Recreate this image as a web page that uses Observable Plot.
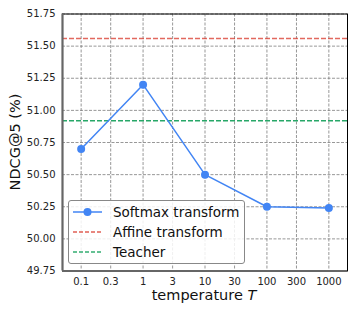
<!DOCTYPE html>
<html>
<head>
<meta charset="utf-8">
<script src="https://cdn.jsdelivr.net/npm/d3@7"></script>
<script src="https://cdn.jsdelivr.net/npm/@observablehq/plot@0.6"></script>
<style>
  html, body { margin: 0; padding: 0; background: #fff; }
  #wrap { position: relative; width: 357px; height: 313px; font-family: "DejaVu Sans", sans-serif; }
  #wrap > svg { position: absolute; left: 0; top: 0; }
  .lbl { position: absolute; color: #111; white-space: nowrap; }
  #legend { position: absolute; left: 68px; top: 200px; width: 177px; height: 64px; box-sizing: border-box;
            border: 1px solid #888; border-radius: 3px; background: rgba(255,255,255,0.85); }
  .row { position: absolute; left: 0; height: 20px; display: flex; align-items: center; font-size: 13.5px; color: #111; white-space: nowrap; }
  #wrap .row svg { position: static; margin-left: 4px; margin-right: 11px; flex: none; }
</style>
</head>
<body>
<div id="wrap"></div>
<script>
const temperatures = [0.1, 1, 10, 100, 1000];
const softmaxNdcg = [50.70, 51.20, 50.50, 50.25, 50.24];
const affineNdcg = 51.56;
const teacherNdcg = 50.92;
const xTicks = [0.1, 0.3, 1, 3, 10, 30, 100, 300, 1000];
const yTicks = [49.75, 50.00, 50.25, 50.50, 50.75, 51.00, 51.25, 51.50, 51.75];
const seriesNames = ["Softmax transform", "Affine transform", "Teacher"];
const seriesColors = ["#4285F4", "#DB4437", "#0F9D58"];

const data = temperatures.map((t, i) => ({t, v: softmaxNdcg[i]}));

const chart = Plot.plot({
  width: 357,
  height: 313,
  marginLeft: 62,
  marginRight: 10,
  marginTop: 13.5,
  marginBottom: 42.5,
  style: {fontFamily: "DejaVu Sans, sans-serif", fontSize: "10px", color: "#222", background: "transparent"},
  x: {type: "log", domain: [0.05, 2000], axis: null},
  y: {domain: [49.75, 51.75], axis: null},
  marks: [
    Plot.gridX(xTicks, {stroke: "#777", strokeOpacity: 0.85, strokeDasharray: "3,1.5", strokeWidth: 0.9}),
    Plot.gridY(yTicks, {stroke: "#777", strokeOpacity: 0.85, strokeDasharray: "3,1.5", strokeWidth: 0.9}),
    Plot.ruleY([affineNdcg], {stroke: seriesColors[1], strokeOpacity: 0.8, strokeWidth: 1.5, strokeDasharray: "5,2"}),
    Plot.ruleY([teacherNdcg], {stroke: seriesColors[2], strokeOpacity: 0.9, strokeWidth: 1.5, strokeDasharray: "5,2"}),
    Plot.line(data, {x: "t", y: "v", stroke: seriesColors[0], strokeWidth: 1.5}),
    Plot.dot(data, {x: "t", y: "v", r: 4, fill: seriesColors[0], stroke: "none"}),
    Plot.frame({stroke: "#000", strokeWidth: 1}),
    Plot.ruleX([0.05], {stroke: "#666", strokeWidth: 2.2}),
    Plot.ruleY([49.75], {stroke: "#666", strokeWidth: 2.2}),
    Plot.text(xTicks, {x: d => d, frameAnchor: "bottom", dy: 10.5, text: d => String(d), fontSize: 10, fill: "#222", lineAnchor: "middle"}),
    Plot.text(yTicks, {y: d => d, frameAnchor: "left", dx: -7, textAnchor: "end", text: d => d3.format(".2f")(d), fontSize: 10, fill: "#222"})
  ]
});

const wrap = document.getElementById("wrap");
wrap.appendChild(chart);

// axis labels
const xl = document.createElement("div");
xl.className = "lbl";
xl.style.fontSize = "14.5px";
xl.innerHTML = "temperature <i>T</i>";
wrap.appendChild(xl);
xl.style.left = (204.2 - xl.offsetWidth / 2) + "px";
xl.style.top = (295 - xl.offsetHeight / 2) + "px";

const yl = document.createElement("div");
yl.className = "lbl";
yl.style.fontSize = "14.5px";
yl.textContent = "NDCG@5 (%)";
wrap.appendChild(yl);
yl.style.left = (15 - yl.offsetWidth / 2) + "px";
yl.style.top = (142 - yl.offsetHeight / 2) + "px";
yl.style.transform = "rotate(-90deg)";

// legend
const lg = document.createElement("div");
lg.id = "legend";
const rowsY = [1, 21, 40.5];
seriesNames.forEach((name, i) => {
  const row = document.createElement("div");
  row.className = "row";
  row.style.top = rowsY[i] + "px";
  const dash = i === 0 ? "" : 'stroke-dasharray="4,2"';
  const dot = i === 0 ? `<circle cx="14.5" cy="10" r="4" fill="${seriesColors[0]}"/>` : "";
  row.innerHTML = `<svg width="29" height="20"><line x1="0" x2="29" y1="10" y2="10" stroke="${seriesColors[i]}" stroke-width="1.5" ${dash} stroke-opacity="${i===0?1:0.85}"/>${dot}</svg><span>${name}</span>`;
  lg.appendChild(row);
});
wrap.appendChild(lg);
</script>
</body>
</html>
